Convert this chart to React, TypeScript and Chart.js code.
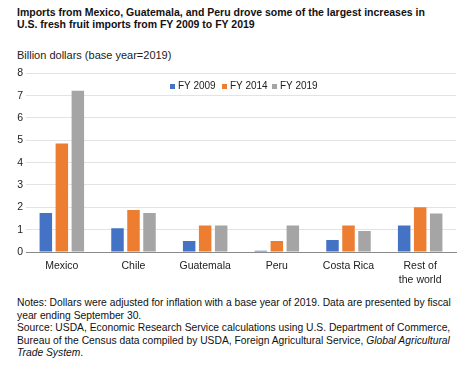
import React, { useEffect, useRef } from "react";
import { Chart, registerables } from "chart.js";

Chart.register(...registerables);

const categories: (string | string[])[] = ["Mexico", "Chile", "Guatemala", "Peru", "Costa Rica", ["Rest of", "the world"]];
const seriesNames = ["FY 2009", "FY 2014", "FY 2019"];
const fy2009 = [1.75, 1.06, 0.49, 0.06, 0.54, 1.19];
const fy2014 = [4.86, 1.88, 1.19, 0.49, 1.19, 2.0];
const fy2019 = [7.22, 1.75, 1.19, 1.19, 0.94, 1.72];
const colors = ["#4472C4", "#ED7D31", "#A5A5A5"];
const yTicks = [0, 1, 2, 3, 4, 5, 6, 7, 8];

const FONT = "'Liberation Sans', Arial, Helvetica, sans-serif";

export default function App() {
  const ref = useRef<HTMLCanvasElement | null>(null);
  useEffect(() => {
    if (!ref.current) return;
    const chart = new Chart(ref.current, {
      type: "bar",
      data: {
        labels: categories as any,
        datasets: [fy2009, fy2014, fy2019].map((d, i) => ({
          label: seriesNames[i],
          data: d,
          backgroundColor: colors[i],
          categoryPercentage: 0.67,
          barPercentage: 0.78,
        })),
      },
      options: {
        animation: false,
        responsive: false,
        maintainAspectRatio: false,
        layout: { padding: { left: 0, right: 17, top: 0, bottom: 0 } },
        plugins: { legend: { display: false }, tooltip: { enabled: false }, title: { display: false } },
        scales: {
          x: {
            grid: { display: false, drawTicks: false },
            border: { display: true, color: "#8a8a8a", width: 1 },
            ticks: { color: "#222", font: { family: FONT, size: 10.5, lineHeight: 1.25 }, padding: 8, maxRotation: 0, autoSkip: false },
            afterFit: (s: any) => { s.height = 38; },
          },
          y: {
            min: 0,
            max: 8,
            afterBuildTicks: (s: any) => { s.ticks = yTicks.map((v) => ({ value: v })); },
            grid: { color: (c: any) => (c.tick && c.tick.value === 0 ? "#8a8a8a" : "#e3e3e3"), lineWidth: 1, drawTicks: false },
            border: { display: false },
            ticks: { color: "#222", font: { family: FONT, size: 10.5 }, padding: 3 },
            afterFit: (s: any) => { s.width = 26; },
          },
        },
      },
    });
    return () => chart.destroy();
  }, []);

  const legendX = [170, 222, 272];
  return (
    <div style={{ position: "absolute", left: 0, top: 0, width: 473, height: 371, background: "#fff", fontFamily: FONT, color: "#111" }}>
      <div style={{ position: "absolute", left: 17, top: 6, fontWeight: "bold", fontSize: 10.5, lineHeight: "12px", width: 456, whiteSpace: "nowrap" }}>
        Imports from Mexico, Guatemala, and Peru drove some of the largest increases in
        <br />
        U.S. fresh fruit imports from FY 2009 to FY 2019
      </div>
      <div style={{ position: "absolute", left: 17, top: 48, fontSize: 11, lineHeight: "14px", color: "#222" }}>
        Billion dollars (base year=2019)
      </div>
      <canvas ref={ref} width={473} height={226} style={{ position: "absolute", left: 0, top: 64, width: 473, height: 226 }} />
      {seriesNames.map((n, i) => (
        <div key={n} style={{ position: "absolute", left: legendX[i], top: 80, fontSize: 10, lineHeight: "12px", color: "#222", whiteSpace: "nowrap", display: "flex", alignItems: "center" }}>
          <span style={{ display: "inline-block", width: 5, height: 5, background: colors[i], marginRight: 3 }} />
          {n}
        </div>
      ))}
      <div style={{ position: "absolute", left: 17, top: 297, fontSize: 10.3, lineHeight: "12.5px", color: "#111", width: 456, whiteSpace: "nowrap" }}>
        Notes: Dollars were adjusted for inflation with a base year of 2019. Data are presented by fiscal
        <br />
        year ending September 30.
        <br />
        Source: USDA, Economic Research Service calculations using U.S. Department of Commerce,
        <br />
        Bureau of the Census data compiled by USDA, Foreign Agricultural Service, <i>Global Agricultural</i>
        <br />
        <i>Trade System</i>.
      </div>
    </div>
  );
}
